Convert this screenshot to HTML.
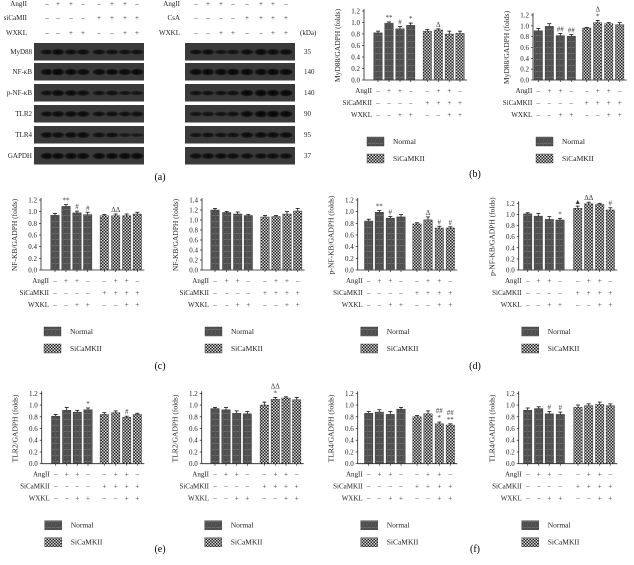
<!DOCTYPE html>
<html><head><meta charset="utf-8">
<style>
html,body{margin:0;padding:0;background:#fff;}
svg{display:block;font-family:"Liberation Serif",serif;}
</style></head>
<body>
<svg id="fig" width="634" height="565" viewBox="0 0 634 565" xmlns="http://www.w3.org/2000/svg">
<defs>
<pattern id="pN" width="4" height="6" patternUnits="userSpaceOnUse">
<rect width="4" height="6" fill="#4f4f4f"/><rect y="5" width="4" height="1" fill="#6a6a6a"/><rect x="3" width="1" height="6" fill="#585858"/>
</pattern>
<pattern id="pS" width="3" height="3" patternUnits="userSpaceOnUse">
<rect width="3" height="3" fill="#d8d8d8"/><rect width="1.5" height="1.5" fill="#222"/><rect x="1.5" y="1.5" width="1.5" height="1.5" fill="#222"/>
</pattern>
<radialGradient id="band" cx="50%" cy="50%" r="50%"><stop offset="0" stop-color="#000"/><stop offset="0.7" stop-color="#111"/><stop offset="1" stop-color="#333"/></radialGradient>
</defs>
<g id="blots"></g>
<g id="charts"></g>
<text x="160" y="180" font-size="10" text-anchor="middle">(a)</text>
<text x="475" y="177" font-size="10" text-anchor="middle">(b)</text>
<text x="160" y="369" font-size="10" text-anchor="middle">(c)</text>
<text x="475" y="369" font-size="10" text-anchor="middle">(d)</text>
<text x="160" y="552" font-size="10" text-anchor="middle">(e)</text>
<text x="475" y="552" font-size="10" text-anchor="middle">(f)</text>
</svg>
<script>
const NS="http://www.w3.org/2000/svg";
// ---- chart data ----
const angSigns=["-","+","+","-","-","+","+","-"];
const siSigns=["-","-","-","-","+","+","+","+"];
const wxSigns=["-","-","+","+","-","-","+","+"];
const b1Normal=[0.82,0.99,0.89,0.95], b1Si=[0.85,0.87,0.80,0.81];
const b1ErrN=[0.03,0.02,0.04,0.04], b1ErrS=[0.03,0.02,0.05,0.04];
const b1AnnN=["","**","#","*"], b1AnnS=["","Δ","",""];
const b2Normal=[0.91,0.99,0.82,0.81], b2Si=[0.96,1.06,1.04,1.02];
const b2ErrN=[0.04,0.05,0.04,0.03], b2ErrS=[0.01,0.04,0.02,0.04];
const b2AnnN=["","","##","##"], b2AnnS=["","Δ|*","",""];
const c1Normal=[0.94,1.09,0.98,0.95], c1Si=[0.93,0.93,0.93,0.96];
const c1ErrN=[0.03,0.03,0.03,0.04], c1ErrS=[0.02,0.03,0.03,0.03];
const c1AnnN=["","**","#","#"], c1AnnS=["","ΔΔ","",""];
const c2Normal=[1.20,1.15,1.12,1.09], c2Si=[1.06,1.07,1.12,1.18];
const c2ErrN=[0.03,0.02,0.04,0.02], c2ErrS=[0.03,0.02,0.05,0.05];
const c2AnnN=["","","",""], c2AnnS=["","","",""];
const d1Normal=[0.84,0.99,0.89,0.91], d1Si=[0.79,0.86,0.72,0.72];
const d1ErrN=[0.03,0.03,0.03,0.04], d1ErrS=[0.02,0.05,0.03,0.02];
const d1AnnN=["","**","#",""], d1AnnS=["","Δ","#","#"];
const d2Normal=[1.01,0.97,0.91,0.90], d2Si=[1.11,1.19,1.18,1.08];
const d2ErrN=[0.02,0.05,0.05,0.03], d2ErrS=[0.04,0.03,0.02,0.04];
const d2AnnN=["","","","*"], d2AnnS=["▲","ΔΔ","","#"];
const e1Normal=[0.81,0.91,0.88,0.92], e1Si=[0.84,0.87,0.79,0.84];
const e1ErrN=[0.03,0.05,0.03,0.03], e1ErrS=[0.03,0.03,0.02,0.02];
const e1AnnN=["","","","*"], e1AnnS=["","","#",""];
const e2Normal=[0.94,0.92,0.86,0.85], e2Si=[1.00,1.10,1.12,1.09];
const e2ErrN=[0.02,0.04,0.04,0.04], e2ErrS=[0.05,0.03,0.02,0.04];
const e2AnnN=["","","",""], e2AnnS=["","ΔΔ|*","",""];
const f1Normal=[0.86,0.88,0.84,0.93], f1Si=[0.80,0.85,0.68,0.66];
const f1ErrN=[0.03,0.04,0.05,0.03], f1ErrS=[0.02,0.05,0.03,0.02];
const f1AnnN=["","","",""], f1AnnS=["","","##|*","##|**"];
const f2Normal=[0.91,0.94,0.85,0.84], f2Si=[0.96,0.99,1.01,0.99];
const f2ErrN=[0.04,0.03,0.04,0.04], f2ErrS=[0.04,0.03,0.04,0.03];
const f2AnnN=["","","#","#"], f2AnnS=["","","",""];
const ticks12=["0.0","0.2","0.4","0.6","0.8","1.0","1.2"];
const ticks14=["0.0","0.2","0.4","0.6","0.8","1.0","1.2","1.4"];

function el(tag,attrs,parent,text){const e=document.createElementNS(NS,tag);for(const k in attrs)e.setAttribute(k,attrs[k]);if(text!==undefined)e.textContent=text;parent.appendChild(e);return e;}

function chart(id,ax,y0,topVal,topY,xs,ylabel,ticks,N,S,EN,ES,AN,AS){
  const g=el("g",{},document.getElementById("charts"));
  
  
  const yScale=v=>y0-(v/topVal)*(y0-topY);
  const tMax=parseFloat(ticks[ticks.length-1]);
  el("line",{x1:ax,y1:y0,x2:ax,y2:yScale(tMax)-2,stroke:"#222","stroke-width":0.8},g);
  el("line",{x1:ax,y1:y0,x2:xs[7]+7,y2:y0,stroke:"#222","stroke-width":0.8},g);
  ticks.forEach(t=>{const v=parseFloat(t),y=yScale(v);
    el("line",{x1:ax-2,y1:y,x2:ax,y2:y,stroke:"#222","stroke-width":0.7},g);
    const tx=el("text",{x:ax-4,y:y+2.5,"font-size":7,"text-anchor":"end",fill:"#222"},g,t);
    
    
  });
  const yl=el("text",{x:0,y:0,"font-size":7.5,"text-anchor":"middle",fill:"#222",transform:`translate(${ax-24},${(y0+topY)/2}) rotate(-90)`},g,ylabel);
  
  
  const vals=N.concat(S), errs=EN.concat(ES), anns=AN.concat(AS);
  vals.forEach((v,i)=>{
    const x=xs[i], y=yScale(v), top=yScale(v+errs[i]);
    const r=el("rect",{x:x-4.2,y:y,width:8.4,height:y0-y,fill:i<4?"url(#pN)":"url(#pS)",stroke:"#222","stroke-width":0.4},g);
    
    
    el("line",{x1:x,y1:y,x2:x,y2:top,stroke:"#111","stroke-width":0.8},g);
    el("line",{x1:x-2,y1:top,x2:x+2,y2:top,stroke:"#111","stroke-width":0.8},g);
    el("line",{x1:x,y1:y0,x2:x,y2:y0+2,stroke:"#222","stroke-width":0.7},g);
    if(anns[i]){const parts=anns[i].split("|");
      parts.slice().reverse().forEach((p,k)=>{
        const a=el("text",{x:x,y:top-2-k*7,"font-size":7,"text-anchor":"middle",fill:"#333"},g,p);
        
        
      });}
  });
  const rows=[["AngII",angSigns,13],["SiCaMKII",siSigns,25],["WXKL",wxSigns,37]];
  const labX=Math.min(ax+8,xs[0]-6);
  rows.forEach(([lab,signs,dy])=>{
    const t=el("text",{x:labX,y:y0+dy,"font-size":7,"text-anchor":"end",fill:"#222"},g,lab);
    
    
    signs.forEach((s,i)=>{el("text",{x:xs[i],y:y0+dy,"font-size":7,"text-anchor":"middle",fill:"#333"},g,s==="-"?"–":"+");});
  });
  [["Normal","url(#pN)",57],["SiCaMKII","url(#pS)",74]].forEach(([lab,f,dy])=>{
    const sw=el("rect",{x:ax+3,y:y0+dy,width:17,height:9,fill:f,stroke:"#333","stroke-width":0.4},g);
    
    
    const t=el("text",{x:ax+29,y:y0+dy+7,"font-size":7.5,fill:"#222"},g,lab);
    
    
  });
}
chart("b1",364,80,1.2,11,[378,389,400,410.7,427.3,438.3,449.3,460],"MyD88/GADPH (folds)",ticks12,b1Normal,b1Si,b1ErrN,b1ErrS,b1AnnN,b1AnnS);
chart("b2",533,80,1.2,15,[538.3,549.3,560.3,571.3,586.7,597.7,608.7,619.7],"MyD88/GADPH (folds)",ticks12,b2Normal,b2Si,b2ErrN,b2ErrS,b2AnnN,b2AnnS);
chart("c1",41,270,1.2,200,[55,66,77,87.7,104.3,115.7,126.7,137.3],"NF-KB/GADPH (folds)",ticks12,c1Normal,c1Si,c1ErrN,c1ErrS,c1AnnN,c1AnnS);
chart("c2",202,270,1.4,200,[215,226.7,237.7,248.3,265,276,287,297.7],"NF-KB/GADPH (folds)",ticks14,c2Normal,c2Si,c2ErrN,c2ErrS,c2AnnN,c2AnnS);
chart("d1",357.7,270,1.2,200,[368.7,379.3,390.3,401,417,428,439.3,450.3],"p-NF-KB/GADPH (folds)",ticks12,d1Normal,d1Si,d1ErrN,d1ErrS,d1AnnN,d1AnnS);
chart("d2",518.7,270,1.2,203.3,[527.7,538.3,549.3,560,577.7,588.7,599.7,610.3],"p-NF-KB/GADPH (folds)",ticks12,d2Normal,d2Si,d2ErrN,d2ErrS,d2AnnN,d2AnnS);
chart("e1",41.7,463.7,1.2,393.3,[55.7,66.7,77.3,88,104.3,115.7,126.7,137.3],"TLR2/GADPH (folds)",ticks12,e1Normal,e1Si,e1ErrN,e1ErrS,e1AnnN,e1AnnS);
chart("e2",201.7,463.7,1.2,393.3,[215,226,236.7,247.3,264.3,275.3,286,296.7],"TLR2/GADPH (folds)",ticks12,e2Normal,e2Si,e2ErrN,e2ErrS,e2AnnN,e2AnnS);
chart("f1",357.7,463.7,1.2,393.3,[368.7,379.3,390.3,401,417,428,439.3,450.3],"TLR4/GADPH (folds)",ticks12,f1Normal,f1Si,f1ErrN,f1ErrS,f1AnnN,f1AnnS);
chart("f2",518.7,463.7,1.2,393.3,[527.7,538.7,549.3,560.3,578,588.7,599.7,610.3],"TLR4/GADPH (folds)",ticks12,f2Normal,f2Si,f2ErrN,f2ErrS,f2AnnN,f2AnnS);

// ---- western blots ----
const blotRows=["MyD88","NF-κB","p-NF-κB","TLR2","TLR4","GAPDH"];
const kda=["35","140","140","90","95","37"];
const blotTop=[43,63,84,105,126,147];
const bandL=[[0.6,0.8,0.65,0.65,0.6,0.6,0.55,0.55],[0.8,0.95,0.85,0.8,0.8,0.8,0.8,0.8],[0.6,0.85,0.75,0.7,0.5,0.55,0.4,0.4],[0.65,0.75,0.75,0.75,0.6,0.6,0.55,0.6],[0.75,0.7,0.75,0.8,0.6,0.6,0.3,0.25],[0.85,0.85,0.85,0.85,0.85,0.85,0.85,0.85]];
const bandR=[[0.55,0.7,0.45,0.5,0.7,0.85,0.75,0.75],[0.85,0.9,0.9,0.9,0.9,0.9,0.9,0.9],[0.5,0.5,0.5,0.55,0.9,0.95,0.9,0.9],[0.45,0.5,0.45,0.55,0.85,0.95,0.95,0.9],[0.45,0.55,0.5,0.55,0.75,0.75,0.75,0.75],[0.7,0.75,0.75,0.7,0.7,0.7,0.7,0.7]];
const B=document.getElementById("blots");
const colL=[47,58,71,83,99,112,125,137], colR=[196,208,221,233,247,261,273,286];
function hdr(x,y,t,anchor){const e=el("text",{x:x,y:y,"font-size":7,"text-anchor":anchor||"end",fill:"#222"},B,t);return e;}
[["AngII",6],["siCaMII",20],["WXKL",35]].forEach(([t,y],r)=>{const e=hdr(27,y,t);
  const s=[angSigns,siSigns,wxSigns][r];colL.forEach((x,i)=>hdr(x,y,s[i]==="-"?"–":"+","middle"));});
[["AngII",6],["CsA",20],["WXKL",35]].forEach(([t,y],r)=>{const e=hdr(180,y,t);
  const s=[angSigns,siSigns,wxSigns][r];colR.forEach((x,i)=>hdr(x,y,s[i]==="-"?"–":"+","middle"));});
hdr(300,35,"(kDa)","start");
blotRows.forEach((name,r)=>{
  const y=blotTop[r];
  const l=hdr(32,y+11,name);
  const k=hdr(304,y+11,kda[r],"start");
  [[34,colL,bandL[r]],[185,colR,bandR[r]]].forEach(([bx,cols,lv])=>{
    const box=el("rect",{x:bx,y:y,width:110,height:17.5,fill:"#3a3a3a"},B);
    
    
    cols.forEach((cx,i)=>{el("ellipse",{cx:cx,cy:y+9,rx:7,ry:1.4+lv[i]*2.4,fill:"url(#band)",opacity:0.55+lv[i]*0.45},B);});
  });
});
</script>
</body></html>
